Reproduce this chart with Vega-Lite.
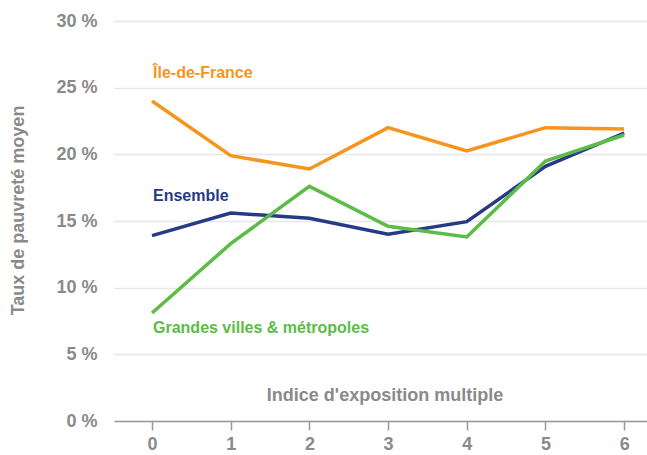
{
  "$schema": "https://vega.github.io/schema/vega-lite/v6.json",
  "width": 533,
  "height": 400,
  "autosize": {"type": "none"},
  "padding": {"left": 114, "top": 21, "right": 0, "bottom": 34},
  "background": "white",
  "config": {
    "view": {"stroke": null},
    "font": "Liberation Sans"
  },
  "datasets": {
    "series": [
      {"indice": 0, "taux": 24.0, "zone": "Île-de-France"},
      {"indice": 1, "taux": 19.9, "zone": "Île-de-France"},
      {"indice": 2, "taux": 18.9, "zone": "Île-de-France"},
      {"indice": 3, "taux": 22.0, "zone": "Île-de-France"},
      {"indice": 4, "taux": 20.25, "zone": "Île-de-France"},
      {"indice": 5, "taux": 22.0, "zone": "Île-de-France"},
      {"indice": 6, "taux": 21.9, "zone": "Île-de-France"},
      {"indice": 0, "taux": 13.9, "zone": "Ensemble"},
      {"indice": 1, "taux": 15.6, "zone": "Ensemble"},
      {"indice": 2, "taux": 15.2, "zone": "Ensemble"},
      {"indice": 3, "taux": 14.0, "zone": "Ensemble"},
      {"indice": 4, "taux": 14.95, "zone": "Ensemble"},
      {"indice": 5, "taux": 19.1, "zone": "Ensemble"},
      {"indice": 6, "taux": 21.6, "zone": "Ensemble"},
      {"indice": 0, "taux": 8.1, "zone": "Grandes villes & métropoles"},
      {"indice": 1, "taux": 13.3, "zone": "Grandes villes & métropoles"},
      {"indice": 2, "taux": 17.6, "zone": "Grandes villes & métropoles"},
      {"indice": 3, "taux": 14.6, "zone": "Grandes villes & métropoles"},
      {"indice": 4, "taux": 13.8, "zone": "Grandes villes & métropoles"},
      {"indice": 5, "taux": 19.5, "zone": "Grandes villes & métropoles"},
      {"indice": 6, "taux": 21.45, "zone": "Grandes villes & métropoles"}
    ],
    "labels": [
      {"indice": 0, "taux": 26.1, "zone": "Île-de-France"},
      {"indice": 0, "taux": 16.9, "zone": "Ensemble"},
      {"indice": 0, "taux": 7.0, "zone": "Grandes villes & métropoles"}
    ]
  },
  "layer": [
    {
      "data": {"name": "series"},
      "mark": {"type": "line", "strokeWidth": 3.5, "strokeJoin": "miter"},
      "encoding": {
        "x": {
          "field": "indice",
          "type": "quantitative",
          "scale": {"domain": [-0.483, 6.29], "nice": false, "zero": false},
          "axis": {
            "values": [0, 1, 2, 3, 4, 5, 6],
            "format": "d",
            "title": "Indice d'exposition multiple",
            "titleFontSize": 18,
            "titleFontWeight": "bold",
            "titleColor": "#8a8a8a",
            "titleX": 270.5,
            "titleY": -26,
            "titleBaseline": "middle",
            "titleAnchor": "middle",
            "labelFontSize": 18,
            "labelFontWeight": "bold",
            "labelColor": "#8a8a8a",
            "labelPadding": 5,
            "grid": false,
            "domainColor": "#999999",
            "domainWidth": 1.5,
            "tickColor": "#999999",
            "tickWidth": 1.5,
            "tickSize": 9
          }
        },
        "y": {
          "field": "taux",
          "type": "quantitative",
          "scale": {"domain": [0, 30], "nice": false},
          "axis": {
            "values": [0, 5, 10, 15, 20, 25, 30],
            "labelExpr": "datum.value + ' %'",
            "title": "Taux de pauvreté moyen",
            "titleFontSize": 18,
            "titleFontWeight": "bold",
            "titleColor": "#8a8a8a",
            "titleX": -96,
            "titleY": 189,
            "titleAngle": -90,
            "titleBaseline": "middle",
            "titleAnchor": "middle",
            "labelFontSize": 18,
            "labelFontWeight": "bold",
            "labelColor": "#8a8a8a",
            "labelPadding": 17,
            "ticks": false,
            "domain": false,
            "grid": true,
            "gridColor": "#e6e6e6",
            "gridWidth": 1.5
          }
        },
        "color": {
          "field": "zone",
          "type": "nominal",
          "scale": {
            "domain": ["Île-de-France", "Ensemble", "Grandes villes & métropoles"],
            "range": ["#F7941D", "#263A87", "#5DBB47"]
          },
          "legend": null
        }
      }
    },
    {
      "data": {"name": "labels"},
      "mark": {"type": "text", "align": "left", "baseline": "middle", "fontSize": 16, "fontWeight": "bold", "dx": 1},
      "encoding": {
        "x": {"field": "indice", "type": "quantitative"},
        "y": {"field": "taux", "type": "quantitative"},
        "text": {"field": "zone"},
        "color": {"field": "zone", "type": "nominal", "legend": null}
      }
    }
  ]
}
